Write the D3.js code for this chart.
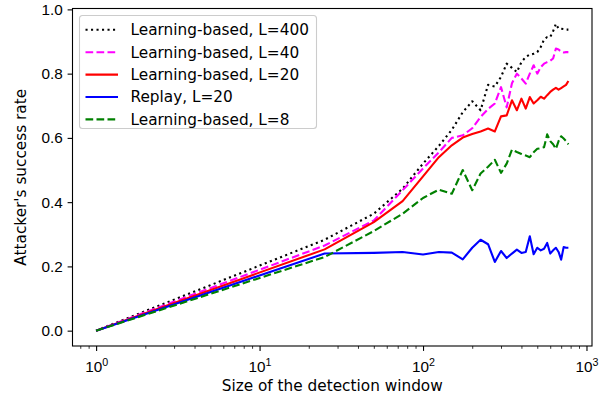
<!DOCTYPE html>
<html>
<head>
<meta charset="utf-8">
<script src="https://cdn.jsdelivr.net/npm/d3@7"></script>
<style>
  html, body { margin: 0; padding: 0; background: #fff; }
  svg { display: block; font-family: 'DejaVu Sans', sans-serif; }
  .tick text { font-size: 15.3px; fill: #000; }
</style>
</head>
<body>
<svg id="chart" width="613" height="401"></svg>
<script>
// detection window sizes (x values)
const windowSizes = [1, 25, 50, 75, 100, 125, 150, 175, 200, 225, 250, 275, 300, 325, 350, 375,
  400, 425, 450, 475, 500, 525, 550, 575, 600, 625, 650, 675, 700, 725, 750, 775];

const learnL400 = [0, 0.283, 0.364, 0.442, 0.52, 0.575, 0.625, 0.68, 0.714, 0.686, 0.765, 0.76, 0.79,
  0.831, 0.818, 0.805, 0.836, 0.852, 0.859, 0.862, 0.867, 0.883, 0.906, 0.914, 0.914, 0.932, 0.955,
  0.94, 0.94, 0.939, 0.937, 0.937];
const learnL40 = [0, 0.265, 0.343, 0.437, 0.505, 0.555, 0.6, 0.608, 0.63, 0.665, 0.69, 0.707, 0.758,
  0.695, 0.77, 0.8, 0.785, 0.769, 0.8, 0.826, 0.8, 0.82, 0.831, 0.836, 0.84, 0.847, 0.878,
  0.875, 0.868, 0.866, 0.867, 0.867];
const learnL20 = [0, 0.253, 0.338, 0.403, 0.48, 0.54, 0.577, 0.601, 0.612, 0.62, 0.629, 0.62, 0.667,
  0.67, 0.717, 0.686, 0.722, 0.691, 0.727, 0.707, 0.717, 0.728, 0.722, 0.733, 0.743, 0.75, 0.756,
  0.75, 0.755, 0.76, 0.765, 0.777];
const replayL20 = [0, 0.24, 0.242, 0.245, 0.237, 0.245, 0.243, 0.222, 0.258, 0.283, 0.269, 0.214, 0.248,
  0.226, 0.24, 0.252, 0.242, 0.245, 0.294, 0.238, 0.258, 0.25, 0.255, 0.273, 0.24, 0.25, 0.258,
  0.245, 0.221, 0.26, 0.258, 0.258];
const learnL8 = [0, 0.229, 0.31, 0.364, 0.413, 0.439, 0.426, 0.5, 0.437, 0.489, 0.51, 0.532, 0.491,
  0.52, 0.563, 0.556, 0.55, 0.545, 0.54, 0.555, 0.566, 0.568, 0.571, 0.611, 0.59, 0.58, 0.566,
  0.59, 0.605, 0.598, 0.59, 0.58];

const seriesNames = ['Learning-based, L=400', 'Learning-based, L=40', 'Learning-based, L=20',
  'Replay, L=20', 'Learning-based, L=8'];
const seriesValues = [learnL400, learnL40, learnL20, replayL20, learnL8];
const seriesColors = ['#000000', '#ff00ff', '#ff0000', '#0000ff', '#008000'];
const seriesDashes = ['2.1,3.4', '7.7,3.3', null, null, '7.7,3.3'];

const yTicks = [0, 0.2, 0.4, 0.6, 0.8, 1.0];
const xTicks = [1, 10, 100, 1000];

const margin = { top: 8.5, right: 21, bottom: 55, left: 72.5 };
const W = 613, H = 401;
const width = W - margin.left - margin.right;
const height = H - margin.top - margin.bottom;

const svg = d3.select('#chart');
const g = svg.append('g').attr('transform', `translate(${margin.left},${margin.top})`);

// matplotlib style 5% margins (log space for x)
const lx = d3.extent(windowSizes, d => Math.log10(d));
const padX = (lx[1] - lx[0]) * 0.05;
const allY = seriesValues.flat();
const ey = d3.extent(allY);
const padY = (ey[1] - ey[0]) * 0.05;

const x = d3.scaleLog()
  .domain([Math.pow(10, lx[0] - padX), Math.pow(10, lx[1] + padX)])
  .range([0, width]);
const y = d3.scaleLinear()
  .domain([ey[0] - padY, ey[1] + padY])
  .range([height, 0]);

// minor ticks
const minorTicks = [];
[0.1, 1, 10, 100].forEach(dec => {
  for (let k = 2; k <= 9; k++) {
    const v = dec * k;
    if (v >= x.domain()[0] && v <= x.domain()[1]) minorTicks.push(v);
  }
});

g.append('g')
  .attr('transform', `translate(0,${height})`)
  .call(d3.axisBottom(x).tickValues(minorTicks).tickSize(2.8).tickFormat(''))
  .call(a => a.select('.domain').remove())
  .call(a => a.selectAll('line').attr('stroke', '#000').attr('stroke-width', 0.8));

const axX = g.append('g')
  .attr('transform', `translate(0,${height})`)
  .call(d3.axisBottom(x).tickValues(xTicks).tickSize(4.9).tickPadding(4.9).tickFormat(''));
axX.select('.domain').remove();
axX.selectAll('line').attr('stroke', '#000').attr('stroke-width', 1.1);
axX.selectAll('.tick').each(function (d) {
  const t = d3.select(this).append('text')
    .attr('y', 26)
    .attr('text-anchor', 'middle')
    .attr('fill', '#000');
  t.append('tspan').style('font-size', '15.3px').text('10');
  t.append('tspan').style('font-size', '10.7px').attr('dy', -6.5)
    .text(Math.round(Math.log10(d)));
});

const axY = g.append('g')
  .call(d3.axisLeft(y).tickValues(yTicks).tickSize(4.9).tickPadding(4.9).tickFormat(d3.format('.1f')));
axY.select('.domain').remove();
axY.selectAll('line').attr('stroke', '#000').attr('stroke-width', 1.1);
axY.selectAll('text').style('font-size', '15.3px');

// lines
const line = d3.line()
  .x(d => x(d[0]))
  .y(d => y(d[1]));

seriesValues.forEach((vals, i) => {
  g.append('path')
    .datum(windowSizes.map((w, j) => [w, vals[j]]))
    .attr('fill', 'none')
    .attr('stroke', seriesColors[i])
    .attr('stroke-width', 2.1)
    .attr('stroke-linejoin', 'round')
    .attr('stroke-dasharray', seriesDashes[i])
    .attr('d', line);
});

// frame
g.append('rect')
  .attr('width', width)
  .attr('height', height)
  .attr('fill', 'none')
  .attr('stroke', '#000')
  .attr('stroke-width', 1.1);

// labels
svg.append('text')
  .attr('x', margin.left + width / 2)
  .attr('y', 391)
  .attr('text-anchor', 'middle')
  .style('font-size', '15.3px')
  .text('Size of the detection window');

svg.append('text')
  .attr('transform', `translate(26,${margin.top + height / 2}) rotate(-90)`)
  .attr('text-anchor', 'middle')
  .style('font-size', '15.3px')
  .text("Attacker's success rate");

// legend
const legend = g.append('g').attr('transform', 'translate(7,7)');
legend.append('rect')
  .attr('width', 237)
  .attr('height', 113)
  .attr('rx', 3)
  .attr('fill', '#fff')
  .attr('fill-opacity', 0.8)
  .attr('stroke', '#cccccc')
  .attr('stroke-width', 1.1);

seriesNames.forEach((name, i) => {
  const row = legend.append('g').attr('transform', `translate(0,${14.3 + i * 22.4})`);
  row.append('line')
    .attr('x1', 6).attr('x2', 38.5)
    .attr('stroke', seriesColors[i])
    .attr('stroke-width', 2.1)
    .attr('stroke-dasharray', seriesDashes[i]);
  row.append('text')
    .attr('x', 51)
    .attr('dy', '0.35em')
    .style('font-size', '15.3px')
    .text(name);
});
</script>
</body>
</html>
